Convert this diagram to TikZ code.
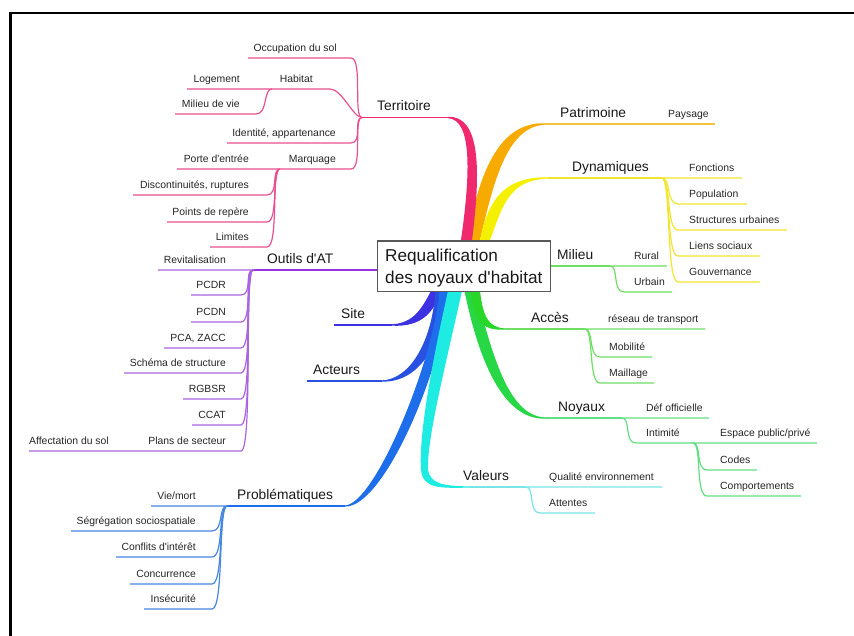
\documentclass[tikz,border=0pt]{standalone}
\usepackage{fontspec}
\setmainfont{Liberation Sans}[Ligatures=TeXOff]
\usetikzlibrary{calc}

\definecolor{cTerr}{RGB}{240,40,110}
\definecolor{lTerr}{RGB}{232,80,145}
\definecolor{cPatr}{RGB}{247,170,0}
\definecolor{lPatr}{RGB}{245,195,60}
\definecolor{cDyn}{RGB}{245,240,0}
\definecolor{lDyn}{RGB}{240,230,50}
\definecolor{cGreen}{RGB}{40,215,40}
\definecolor{lGreen}{RGB}{110,222,100}
\definecolor{cNoy}{RGB}{40,215,70}
\definecolor{lNoy}{RGB}{100,222,130}
\definecolor{cVal}{RGB}{30,235,225}
\definecolor{lVal}{RGB}{120,230,230}
\definecolor{cProb}{RGB}{30,110,235}
\definecolor{lProb}{RGB}{70,135,222}
\definecolor{cAct}{RGB}{40,80,225}
\definecolor{cSite}{RGB}{60,50,225}
\definecolor{cOut}{RGB}{150,50,225}
\definecolor{lOut}{RGB}{170,100,225}

\tikzset{
  kid/.style={inner sep=0pt, font=\fontsize{10.4}{12}\selectfont, text=black!85},
  lvl/.style={inner sep=0pt, anchor=base west, font=\fontsize{13.8}{16}\selectfont, text=black!90},
  kidline/.style={line width=1.2pt},
  mainline/.style={line width=1.5pt},
}

% right-side child with curve
\newcommand\mmR[8]{%
  \coordinate (#1s) at (#5,#4);
  \coordinate (#1e) at (#6,#4);
  \draw[kidline,#2] (#3) .. controls +(9,0) and +(-12,0) .. (#1s) -- (#1e);
  \node[kid,anchor=base west] (#1) at (#7,#4-6.5) {#8};}
% right-side child, path starting at a continuation end #9
\newcommand\mmRp[9]{%
  \coordinate (#1s) at (#5,#4);
  \coordinate (#1e) at (#6,#4);
  \draw[kidline,#2] (#9) -- (#3) .. controls +(9,0) and +(-12,0) .. (#1s) -- (#1e);
  \node[kid,anchor=base west] (#1) at (#7,#4-6.5) {#8};}
% left-side child with curve
\newcommand\mmL[8]{%
  \coordinate (#1s) at (#5,#4);
  \coordinate (#1e) at (#6,#4);
  \draw[kidline,#2] (#3) .. controls +(-9,0) and +(12,0) .. (#1e) -- (#1s);
  \node[kid,anchor=base east] (#1) at (#7,#4-6.5) {#8};}
% left-side child, path starting at a continuation end #9
\newcommand\mmLp[9]{%
  \coordinate (#1s) at (#5,#4);
  \coordinate (#1e) at (#6,#4);
  \draw[kidline,#2] (#9) -- (#3) .. controls +(-9,0) and +(12,0) .. (#1e) -- (#1s);
  \node[kid,anchor=base east] (#1) at (#7,#4-6.5) {#8};}
% left-side child whose line continues on to #9
\newcommand\mmLq[9]{%
  \coordinate (#1s) at (#5,#4);
  \coordinate (#1e) at (#6,#4);
  \draw[kidline,#2] (#3) .. controls +(-9,0) and +(12,0) .. (#1e) -- (#1s) -- (#9);
  \node[kid,anchor=base east] (#1) at (#7,#4-6.5) {#8};}
% continuation children: coordinate and label only
\newcommand\mmRn[5]{%
  \coordinate (#1e) at (#3,#2);
  \node[kid,anchor=base west] (#1) at (#4,#2-6.5) {#5};}
\newcommand\mmLn[5]{%
  \coordinate (#1e) at (#3,#2);
  \node[kid,anchor=base east] (#1) at (#4,#2-6.5) {#5};}

\begin{document}
\begin{tikzpicture}[x=1pt,y=-1pt]
\useasboundingbox (0,0) rectangle (854,636);
\fill[white] (0,0) rectangle (854,636);
\draw[line width=2.4pt] (10.3,636) -- (10.3,13.3) -- (854,13.3);

% ---------- junction coordinates ----------
\coordinate (JT) at (362,117.5);
\coordinate (JH) at (272,89);
\coordinate (JM) at (280,169);
\coordinate (JO) at (253,270);
\coordinate (JP) at (227,506);
\coordinate (JD) at (662,178);
\coordinate (JMi) at (610,266);
\coordinate (JA) at (585,329);
\coordinate (JN) at (622,418);
\coordinate (JI) at (693,443);
\coordinate (JV) at (526,487);
\coordinate (JPa) at (655,124);
\coordinate (JPl) at (140,451);

% band ends
\coordinate (Tend) at (448,117.5);
\coordinate (Pend) at (545,124);
\coordinate (Dend) at (548,178);
\coordinate (Send) at (392,325);
\coordinate (Aend) at (382,381);
\coordinate (PRend) at (345,506);
\coordinate (Vend) at (470,487);
\coordinate (ACend) at (505,329);
\coordinate (Nend) at (545,418);
\coordinate (Obox) at (377,270);
\coordinate (Mbox) at (550,266);

% ---------- bands ----------
\fill[cPatr] (467,240) .. controls (477,185) and (494,121.5) .. (545,123.3)
  -- (545,124.7) .. controls (506,126.5) and (493,185) .. (480,240) -- cycle;
\fill[cDyn] (480,240) .. controls (487,205) and (501,176) .. (548,177.4)
  -- (548,178.6) .. controls (509,180) and (503,205) .. (490,240) -- cycle;
\fill[cTerr] (461,240) .. controls (471,170) and (471.5,119.5) .. (448,118.2)
  -- (448,116.8) .. controls (480.5,115.5) and (481,170) .. (472,240) -- cycle;

\fill[cSite] (431,291) .. controls (422,308) and (414,323) .. (392,324.3)
  -- (392,325.7) .. controls (422,327.2) and (434,312) .. (441,291) -- cycle;
\fill[cAct] (435.5,291) .. controls (432,340) and (411,379.2) .. (382,380.4)
  -- (382,381.6) .. controls (420,382.8) and (444,342) .. (444.5,291) -- cycle;
\fill[cProb] (439.5,291) .. controls (434,360) and (375,504.3) .. (345,505.4)
  -- (345,506.6) .. controls (385,507.7) and (446,360) .. (448.5,291) -- cycle;
\fill[cVal] (448,291) .. controls (428,380) and (419,440) .. (421,470)
  .. controls (423,489) and (440,488.2) .. (470,487.6)
  -- (470,486.4) .. controls (440,486) and (431,483) .. (428,470)
  .. controls (427,440) and (442,380) .. (462,291) -- cycle;
\fill[cNoy] (464.5,291) .. controls (478,357) and (502,420) .. (545,418.6)
  -- (545,417.4) .. controls (508,416) and (492,353) .. (475.5,291) -- cycle;
\fill[cGreen] (471,291) .. controls (473,320) and (481,330.8) .. (505,329.6)
  -- (505,328.4) .. controls (488,327.5) and (483,316) .. (480,291) -- cycle;

% ---------- level-1 lines ----------
\draw[mainline,cTerr] (Tend) -- (JT);
\draw[mainline,lPatr] (Pend) -- (JPa);
\draw[mainline,lDyn] (Dend) -- (JD);
\draw[mainline,lGreen] (Mbox) -- (JMi);
\draw[mainline,lGreen] (ACend) -- (JA);
\draw[mainline,lNoy] (Nend) -- (JN);
\draw[mainline,lVal] (Vend) -- (JV);
\draw[mainline,cProb] (PRend) -- (JP);
\coordinate (Aleft) at (307,381);
\draw[mainline,cAct] (Aend) -- (Aleft);
\coordinate (Sleft) at (334,325);
\draw[mainline,cSite] (Send) -- (Sleft);
\draw[mainline,cOut] (Obox) -- (JO);

% ---------- level-1 labels ----------
\node[lvl] (terr) at (377,111) {Territoire};
\node[lvl] (patr) at (560,117.5) {Patrimoine};
\node[lvl] (dyn) at (572,171.5) {Dynamiques};
\node[lvl] (mil) at (557,259.5) {Milieu};
\node[lvl] (acc) at (531,322.5) {Accès};
\node[lvl] (noy) at (558,411.5) {Noyaux};
\node[lvl] (val) at (463,480.5) {Valeurs};
\node[lvl] (prob) at (237,499.5) {Problématiques};
\node[lvl] (act) at (313,374.5) {Acteurs};
\node[lvl] (site) at (341,318.5) {Site};
\node[lvl] (outil) at (267,263.5) {Outils d'AT};

% ---------- Territoire ----------
\mmL{occ}{lTerr}{JT}{58}{248}{351}{337}{Occupation du sol}
\mmLn{loge}{89}{187}{240}{Logement}
\mmLq{hab}{lTerr}{JT}{89}{272}{330}{313}{Habitat}{logee}
\mmL{ident}{lTerr}{JT}{143}{227}{351}{336}{Identité, appartenance}
\mmLn{porte}{169}{177}{249}{Porte d'entrée}
\mmLq{marq}{lTerr}{JT}{169}{280}{351}{336}{Marquage}{portee}
\mmL{milv}{lTerr}{JH}{114}{175}{256}{240}{Milieu de vie}
\mmL{disc}{lTerr}{JM}{195}{133}{267}{249}{Discontinuités, ruptures}
\mmL{rep}{lTerr}{JM}{222}{167}{267}{249}{Points de repère}
\mmL{lim}{lTerr}{JM}{247}{210}{267}{249}{Limites}

% ---------- Patrimoine ----------
\coordinate (payse) at (715,124);
\draw[kidline,lPatr] (JPa) -- (payse);
\node[kid,anchor=base west] (pays) at (668,117.5) {Paysage};

% ---------- Dynamiques ----------
\mmRn{fonc}{178}{742}{689}{Fonctions}
\mmRp{pop}{lDyn}{JD}{204}{678}{747}{689}{Population}{fonce}
\mmR{struc}{lDyn}{JD}{230}{678}{787}{689}{Structures urbaines}
\mmR{liens}{lDyn}{JD}{256}{678}{760}{689}{Liens sociaux}
\mmR{gouv}{lDyn}{JD}{282}{678}{760}{689}{Gouvernance}

% ---------- Milieu ----------
\mmRn{rur}{266}{667}{634}{Rural}
\mmRp{urb}{lGreen}{JMi}{292}{624}{672}{634}{Urbain}{rure}

% ---------- Accès ----------
\mmRn{res}{329}{705}{608}{réseau de transport}
\mmRp{mob}{lGreen}{JA}{357}{600}{652}{609}{Mobilité}{rese}
\mmR{mail}{lGreen}{JA}{383}{600}{654}{609}{Maillage}

% ---------- Noyaux ----------
\mmRn{def}{418}{709}{646}{Déf officielle}
\mmRp{inti}{lNoy}{JN}{443}{636}{693}{646}{Intimité}{defe}
\mmRn{esp}{443}{817}{720}{Espace public/privé}
\mmRp{codes}{lNoy}{JI}{470}{707}{757}{720}{Codes}{espe}
\mmR{comp}{lNoy}{JI}{496}{707}{801}{720}{Comportements}

% ---------- Valeurs ----------
\mmRn{qual}{487}{662}{549}{Qualité environnement}
\mmRp{att}{lVal}{JV}{513}{540}{595}{549}{Attentes}{quale}

% ---------- Outils d'AT ----------
\mmLn{revi}{270}{158}{226}{Revitalisation}
\mmLp{pcdr}{lOut}{JO}{295}{191}{241}{226}{PCDR}{revie}
\mmL{pcdn}{lOut}{JO}{322}{191}{241}{226}{PCDN}
\mmL{pca}{lOut}{JO}{348}{164}{241}{226}{PCA, ZACC}
\mmL{schema}{lOut}{JO}{373}{124}{241}{226}{Schéma de structure}
\mmL{rgbsr}{lOut}{JO}{399}{183}{241}{226}{RGBSR}
\mmL{ccat}{lOut}{JO}{425}{192}{241}{226}{CCAT}
\coordinate (affe) at (29,451);
\node[kid,anchor=base west] (aff) at (29,444.5) {Affectation du sol};
\mmLq{plans}{lOut}{JO}{451}{140}{241}{226}{Plans de secteur}{affe}

% ---------- Problématiques ----------
\mmLn{vie}{506}{151}{196}{Vie/mort}
\mmLp{segr}{lProb}{JP}{531}{71}{212}{196}{Ségrégation sociospatiale}{viee}
\mmL{conf}{lProb}{JP}{557}{116}{212}{196}{Conflits d'intérêt}
\mmL{conc}{lProb}{JP}{584}{130}{212}{196}{Concurrence}
\mmL{inse}{lProb}{JP}{609}{144}{212}{196}{Insécurité}

% ---------- central box ----------
\node[draw=black!65, fill=white, line width=1.2pt, rectangle, inner sep=0pt,
      minimum width=173pt, minimum height=50.5pt, anchor=north west] (root) at (377,240.5) {};
\node[inner sep=0pt, anchor=base west, font=\fontsize{17.2}{20}\selectfont, text=black!90] (rootA) at (385,262) {Requalification};
\node[inner sep=0pt, anchor=base west, font=\fontsize{17.2}{20}\selectfont, text=black!90] (rootB) at (385,283.3) {des noyaux d'habitat};
\end{tikzpicture}
\end{document}
